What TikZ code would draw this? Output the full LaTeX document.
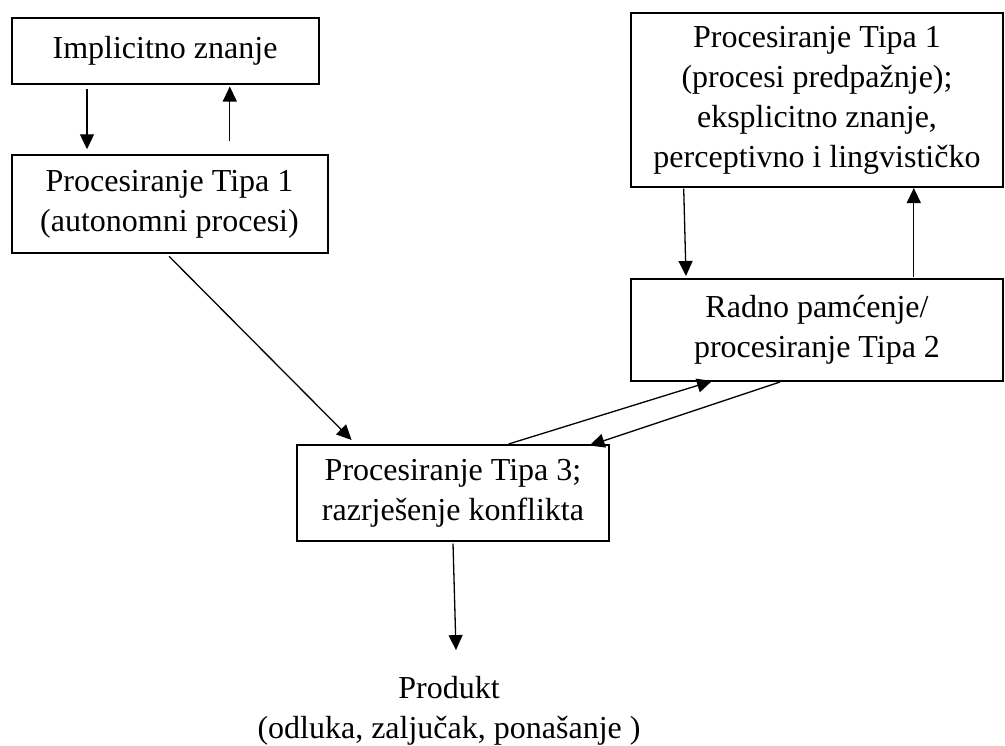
\documentclass[tikz,border=0pt]{standalone}
\usepackage{fontspec}
\setmainfont{Liberation Serif}
\usetikzlibrary{arrows.meta}
\begin{document}
\begin{tikzpicture}[x=0.5pt,y=-0.5pt,
  every node/.style={font=\fontsize{16}{20}\selectfont, align=center, inner sep=0pt},
  box/.style={draw, line width=1pt},
  arr/.style={line width=0.65pt, -{Triangle[length=7.5pt,width=7pt]}}]
\useasboundingbox (0,0) rectangle (1005,745);

% boxes
\node[box, minimum width=153.5pt, minimum height=33pt] (impl) at (165,51) {Implicitno znanje};
\node[box, minimum width=158pt, minimum height=49.25pt] (t1) at (169.5,204) {Procesiranje Tipa 1\\(autonomni procesi)};
\node[box, minimum width=186pt, minimum height=87pt] (pre) at (817,100) {Procesiranje Tipa 1\\(procesi predpažnje);\\eksplicitno znanje,\\perceptivno i lingvističko};
\node[box, minimum width=186pt, minimum height=51pt] (radno) at (817,330) {Radno pamćenje/\\procesiranje Tipa 2};
\node[box, minimum width=156pt, minimum height=48pt] (t3) at (453,493) {Procesiranje Tipa 3;\\razrješenje konflikta};
\node (prod) at (449,711) {Produkt\\(odluka, zaljučak, ponašanje )};

% connectors
\draw[arr] ([shift={(76.5,4)}]impl.south west) -- ([shift={(76.5,-4.5)}]t1.north west);
\draw[arr] ([shift={(219.3,-13)}]t1.north west) -- ([shift={(219.3,1.5)}]impl.south west);
\draw[arr] ([shift={(158.5,2)}]t1.south west) -- ([shift={(55.6,-4)}]t3.north west);
\draw[arr] ([shift={(53.7,0.6)}]pre.south west) -- ([shift={(56,-2)}]radno.north west);
\draw[arr] ([shift={(283.8,-1)}]radno.north west) -- ([shift={(283.8,0)}]pre.south west);
\draw[arr] ([shift={(212.6,0)}]t3.north west) -- ([shift={(82,-1)}]radno.south west);
\draw[arr] ([shift={(150,0)}]radno.south west) -- ([shift={(-20.5,1.5)}]t3.north east);
\draw[arr] ([shift={(0,1.5)}]t3.south) -- ([shift={(7,-26)}]prod.north);
\end{tikzpicture}
\end{document}
